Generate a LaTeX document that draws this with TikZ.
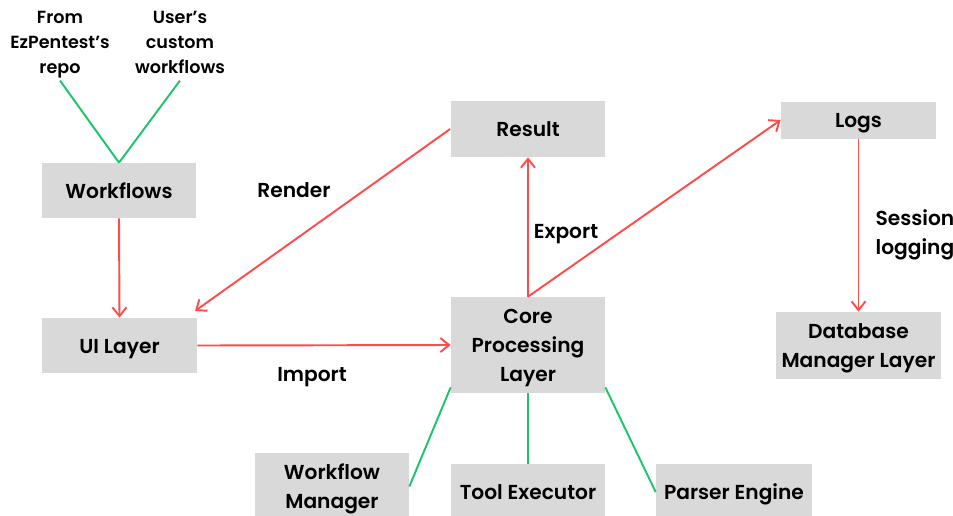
\documentclass[tikz,border=0pt]{standalone}
\usepackage{fontspec}
\setmainfont{Poppins}[BoldFont={Poppins SemiBold}]
\usetikzlibrary{arrows.meta,calc}
\definecolor{boxgray}{HTML}{D9D9D9}
\definecolor{linkred}{HTML}{FF4B4B}
\definecolor{linkgreen}{HTML}{1DC46A}
\newcommand{\topst}{\rule{0pt}{1.03em}}
\newcommand{\botst}{\rule[-0.28em]{0pt}{0pt}}
\tikzset{
  box/.style={fill=boxgray, draw=none, align=center, inner sep=0pt,
    font=\bfseries\fontsize{11.5}{16.5}\selectfont},
  lbl/.style={align=center, inner sep=0pt, font=\bfseries\fontsize{11.5}{16.5}\selectfont},
  src/.style={align=center, inner sep=1pt, font=\bfseries\fontsize{10}{14.2}\selectfont},
  flow/.style={draw=linkred, line width=1.1pt, -{Straight Barb[length=5pt,width=8pt]}},
  link/.style={draw=linkgreen, line width=1.1pt}
}
\begin{document}
\begin{tikzpicture}[x=0.02cm,y=-0.02cm]
\useasboundingbox (0,0) rectangle (953,515);
% boxes
\node[box, minimum width=3.08cm, minimum height=1.10cm] (wf) at (119,190.5) {\topst Workflows\botst};
\node[box, minimum width=3.10cm, minimum height=1.10cm] (ui) at (119.5,345.5) {\topst UI Layer\botst};
\node[box, minimum width=3.10cm, minimum height=1.12cm] (res) at (528,129) {\topst Result\botst};
\node[box, minimum width=3.10cm, minimum height=0.74cm] (logs) at (858.5,120) {\topst Logs\botst};
\node[box, minimum width=3.30cm, minimum height=1.34cm] (db) at (858.5,345.5) {\topst Database\\Manager Layer\botst};
\node[box, minimum width=3.08cm, minimum height=1.92cm] (core) at (528,345) {\topst Core\\Processing\\Layer\botst};
\node[box, minimum width=3.08cm, minimum height=1.34cm] (wm) at (332,486.5) {\topst Workflow\\Manager\botst};
\node[box, minimum width=3.08cm, minimum height=1.12cm] (te) at (528,492) {\topst Tool Executor\botst};
\node[box, minimum width=3.12cm, minimum height=1.12cm] (pe) at (734,492) {\topst Parser Engine\botst};
% sources
\node[src] (from) at (60,42) {\topst From\\EzPentest’s\\repo\botst};
\node[src] (user) at (180,42) {\topst User’s\\custom\\workflows\botst};
% labels
\node[lbl] (render) at (294,190) {\topst Render\botst};
\node[lbl] (import) at (312,374) {\topst Import\botst};
\node[lbl] (export) at (566,231) {\topst Export\botst};
\node[lbl] (session) at (915,232) {\topst Session\\logging\botst};
% green links
\draw[link] (from.south) -- (wf.north);
\draw[link] (user.south) -- (wf.north);
\draw[link] ($(core.south west)+(0,-6)$) -- (wm.east);
\draw[link] (core.south) -- (te.north);
\draw[link] ($(core.south east)+(0,-6)$) -- (pe.west);
% red flows
\coordinate (renderend) at (195,311);
\draw[flow] (wf.south) -- (ui.north);
\draw[flow] (res.west) -- (renderend);
\draw[flow] (ui.east) -- (core.west);
\draw[flow] (core.north) -- (res.south);
\draw[flow] (core.north) -- (logs.west);
\draw[flow] (logs.south) -- (db.north);
\end{tikzpicture}
\end{document}
